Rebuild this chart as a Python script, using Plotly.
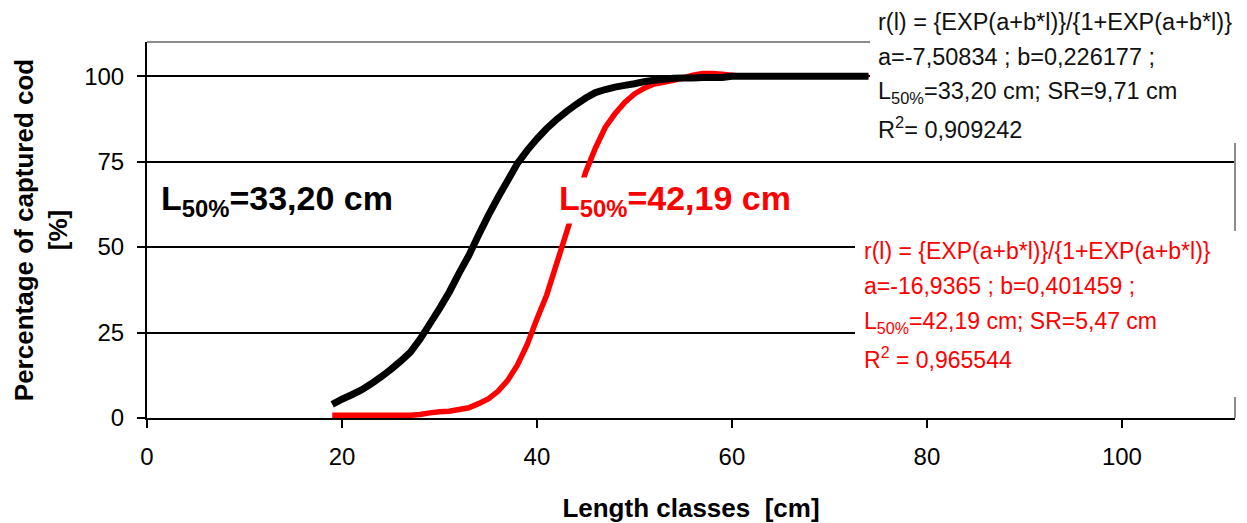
import plotly.graph_objects as go

# ---- data ----
black_len = list(range(19, 75))
black_pct = [4.0, 5.5, 6.8, 8.2, 10.0, 12.0, 14.2, 16.6, 19.2, 23.0,
             27.5, 32.0, 36.8, 42.3, 47.5, 53.5, 59.2, 64.5, 69.5, 74.5,
             78.3, 81.7, 84.7, 87.3, 89.6, 91.7, 93.6, 95.2, 96.1, 96.8,
             97.3, 97.8, 98.4, 98.8, 99.1, 99.4, 99.5, 99.5, 99.6, 99.6,
             99.6, 100.0, 100.0, 100.0, 100.0, 100.0, 100.0, 100.0, 100.0, 100.0,
             100.0, 100.0, 100.0, 100.0, 100.0, 100.0]

red_len = list(range(19, 75))
red_pct = [0.8, 0.8, 0.8, 0.8, 0.8, 0.8, 0.8, 0.8, 0.8, 1.0,
           1.5, 1.8, 2.0, 2.5, 3.0, 4.2, 5.6, 7.8, 11.0, 15.5,
           21.5, 29.0, 36.0, 45.0, 54.0, 63.0, 72.0, 79.0, 85.0, 89.0,
           92.3, 94.8, 96.5, 97.7, 98.2, 98.8, 99.5, 100.3, 100.8, 100.8,
           100.6, 100.3, 100.0, 100.0, 100.0, 100.0, 100.0, 100.0, 100.0, 100.0,
           100.0, 100.0, 100.0, 100.0, 100.0, 100.0]

y_ticks = [0, 25, 50, 75, 100]
x_ticks = [0, 20, 40, 60, 80, 100]

black_info = ["r(l) = {EXP(a+b*l)}/{1+EXP(a+b*l)}",
              "a=-7,50834 ; b=0,226177 ;",
              "L<sub>50%</sub>=33,20 cm; SR=9,71 cm",
              "R<sup>2</sup>= 0,909242"]
red_info = ["r(l) = {EXP(a+b*l)}/{1+EXP(a+b*l)}",
            "a=-16,9365 ; b=0,401459 ;",
            "L<sub>50%</sub>=42,19 cm; SR=5,47 cm",
            "R<sup>2</sup> = 0,965544"]
black_label = "<b>L<sub>50%</sub>=33,20 cm</b>"
red_label = "<b>L<sub>50%</sub>=42,19 cm</b>"

FONT = "Liberation Sans, Arial, sans-serif"

# plot area geometry (pixels) used for paper placement of text blocks
W, H = 1247, 523
ML, MR, MT, MB = 147, 12, 42, 105
PW = W - ML - MR
PH = H - MT - MB


def px_x(px):
    return (px - ML) / PW


def px_y(py):
    return (H - MB - py) / PH


fig = go.Figure()
fig.add_trace(go.Scatter(x=red_len, y=red_pct, mode="lines",
                         line=dict(color="#ff0000", width=5.5, simplify=False),
                         showlegend=False, hoverinfo="skip"))
fig.add_trace(go.Scatter(x=black_len, y=black_pct, mode="lines",
                         line=dict(color="#000000", width=7, simplify=False),
                         showlegend=False, hoverinfo="skip"))

shapes = [
    dict(type="line", xref="paper", yref="paper", x0=0, x1=1, y0=1, y1=1,
         line=dict(color="#8c8c8c", width=2), layer="above"),
    dict(type="line", xref="paper", yref="paper", x0=1, x1=1, y0=0, y1=1,
         line=dict(color="#8c8c8c", width=2), layer="above"),
    dict(type="rect", xref="paper", yref="paper",
         x0=px_x(870), x1=px_x(1250), y0=px_y(143), y1=px_y(-5),
         fillcolor="white", line=dict(width=0), layer="above"),
    dict(type="rect", xref="paper", yref="paper",
         x0=px_x(855), x1=px_x(1250), y0=px_y(397), y1=px_y(231),
         fillcolor="white", line=dict(width=0), layer="above"),
]

annotations = []
for t, cy in zip(black_info, [22, 57, 93, 128]):
    annotations.append(dict(text=t, xref="paper", yref="paper",
                            x=px_x(876), y=px_y(cy), xanchor="left", yanchor="middle",
                            showarrow=False, font=dict(family=FONT, size=23.5, color="#111111")))
for t, cy in zip(red_info, [251, 286, 322, 358]):
    annotations.append(dict(text=t, xref="paper", yref="paper",
                            x=px_x(862), y=px_y(cy), xanchor="left", yanchor="middle",
                            showarrow=False, font=dict(family=FONT, size=23, color="#ff0000")))
annotations.append(dict(text=black_label, x=13.3, y=63.5, xref="x", yref="y",
                        showarrow=False, font=dict(family=FONT, size=34, color="#000000")))
annotations.append(dict(text=red_label, x=54.2, y=63.5, xref="x", yref="y",
                        showarrow=False, bgcolor="white",
                        font=dict(family=FONT, size=34, color="#ff0000")))

fig.update_layout(
    width=W, height=H,
    margin=dict(l=ML, r=MR, t=MT, b=MB, autoexpand=False),
    paper_bgcolor="white", plot_bgcolor="white",
    font=dict(family=FONT, size=24, color="#000000"),
    shapes=shapes, annotations=annotations,
    xaxis=dict(range=[0, 111.6], tickvals=x_ticks, showgrid=False, zeroline=False,
               showline=True, linecolor="#000000", linewidth=2,
               ticks="outside", ticklen=8, tickwidth=2, tickcolor="#000000",
               ticklabelstandoff=8,
               tickfont=dict(family=FONT, size=24, color="#000000"),
               title=dict(text="<b>Length classes  [cm]</b>", standoff=30,
                          font=dict(family=FONT, size=26, color="#000000"))),
    yaxis=dict(range=[0, 110], tickvals=y_ticks, showgrid=True, gridcolor="#000000",
               gridwidth=2, zeroline=False,
               showline=True, linecolor="#000000", linewidth=2,
               ticks="outside", ticklen=8, tickwidth=2, tickcolor="#000000",
               ticklabelstandoff=8,
               tickfont=dict(family=FONT, size=24, color="#000000"),
               title=dict(text="<b>Percentage of captured cod<br>[%]</b>", standoff=9,
                          font=dict(family=FONT, size=26, color="#000000"))),
)

fig.write_html("out.html")
